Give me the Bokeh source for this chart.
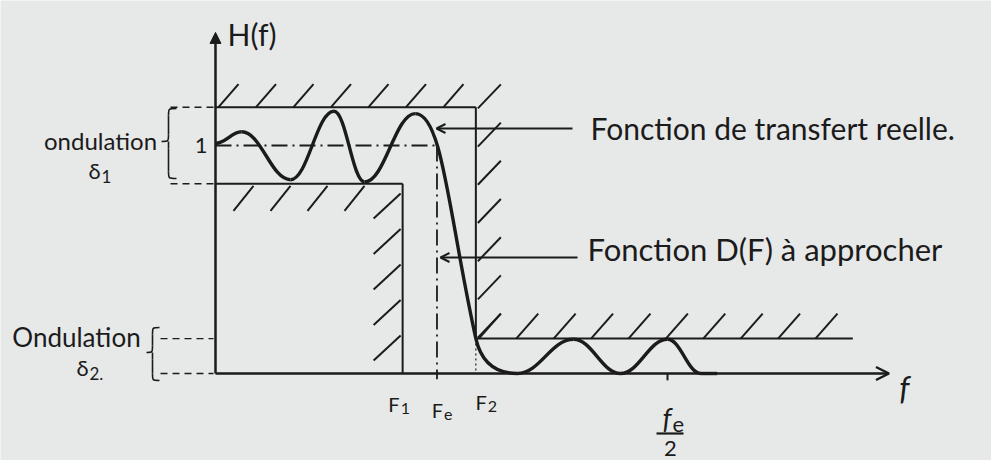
from bokeh.plotting import figure
from bokeh.models import Range1d, Arrow, NormalHead, OpenHead
from bokeh.core.properties import value
from bokeh.embed import file_html
from bokeh.resources import INLINE

# ---- template of the low-pass filter (normalised frequency, gain) ----
F1 = 0.207          # end of pass band
FE = 0.245          # cut-off frequency
F2 = 0.288          # start of stop band
FE_HALF = 0.5       # fe / 2
PASS_LEVEL = 1.0
DELTA1 = 0.168      # pass-band ripple
DELTA2 = 0.153      # stop-band ripple
STOP_END = 0.705
X_AXIS_END = 0.745
Y_AXIS_END = 1.496

# extrema of the real transfer function |H(f)|
curve_f = [0.0, 0.029, 0.083, 0.131, 0.165, 0.221, 0.288, 0.334, 0.396, 0.448, 0.500, 0.537, 0.555]
curve_h = [1.01, 1.06, 0.85, 1.15, 0.84, 1.14, 0.153, 0.0, 0.15, 0.0, 0.15, 0.0, 0.0]

# frequency marks: (main letter, index)
freq_labels = [("F", "1"), ("F", "e"), ("F", "2")]

# ---- layout ----
W, H = 991, 460
X0PX, Y0PX = 215, 373      # screen position of the origin
SX, SY = 904.0, 228.0      # pixels per unit on each axis
INK = "#1b1b1b"
BG = "#e7e8e8"
FONT = value("Lato")


def fx(px):
    return (px - X0PX) / SX


def fy(py):
    return (Y0PX - py) / SY


p = figure(width=W, height=H,
           x_range=Range1d(fx(0), fx(W)), y_range=Range1d(fy(H), fy(0)),
           output_backend="svg", toolbar_location=None,
           x_axis_location=None, y_axis_location=None,
           min_border=0, outline_line_color=None,
           background_fill_color=BG, border_fill_color=BG)
p.grid.visible = False

PASS_HI = PASS_LEVEL + DELTA1
PASS_LO = PASS_LEVEL - DELTA1

# ---- axes ----
p.add_layout(Arrow(end=NormalHead(size=11, fill_color=INK, line_color=INK, line_width=1),
                   x_start=0, y_start=0, x_end=0, y_end=Y_AXIS_END,
                   line_color=INK, line_width=2.5))
p.add_layout(Arrow(end=OpenHead(size=13, line_color=INK, line_width=2.5),
                   x_start=0, y_start=0, x_end=X_AXIS_END, y_end=0,
                   line_color=INK, line_width=2.5))

# ---- template boundaries ----
p.segment(x0=[0, F2, 0, F1, F2], y0=[PASS_HI, PASS_HI, PASS_LO, PASS_LO, DELTA2],
          x1=[F2, F2, F1, F1, STOP_END], y1=[PASS_HI, DELTA2, PASS_LO, 0, DELTA2],
          line_color=INK, line_width=2)
p.segment(x0=[F2], y0=[DELTA2], x1=[F2], y1=[0], line_color=INK, line_width=1.2,
          line_dash="2 3")
# dash-dot guides: level 1 and Fe
p.segment(x0=[0, FE], y0=[PASS_LEVEL, PASS_LEVEL], x1=[FE, FE], y1=[PASS_LEVEL, -0.025],
          line_color=INK, line_width=1.8, line_dash="16 5 2 5")
# fe/2 tick
p.segment(x0=[FE_HALF], y0=[0], x1=[FE_HALF], y1=[-0.03], line_color=INK, line_width=2)

# dashed level marks on the left of the gain axis
lv = [PASS_HI, PASS_LO, DELTA2, 0.0]
left = [fx(170), fx(170), fx(160), fx(160)]
p.segment(x0=left, y0=lv, x1=[fx(213)] * 4, y1=lv, line_color=INK, line_width=1.4,
          line_dash="7 5")


# ---- hatching of the forbidden zones ----
def hatch(starts, dxp, dyp):
    xs0 = [s[0] for s in starts]
    ys0 = [s[1] for s in starts]
    xs1 = [x + dxp / SX for x in xs0]
    ys1 = [y - dyp / SY for y in ys0]
    p.segment(x0=xs0, y0=ys0, x1=xs1, y1=ys1, line_color=INK, line_width=2)


def along(a, b, first_px, step_px, scale):
    out, v = [], a + first_px / scale
    while v <= b + 1e-9:
        out.append(v)
        v += step_px / scale
    return out


# above the pass-band upper bound
hatch([(x, PASS_HI) for x in along(0, F2 - 20 / SX, 3, 37.5, SX)], 20, -23)
# right of F2
hatch([(F2 + 2 / SX, y) for y in along(DELTA2, PASS_HI, 1, 38.2, SY)], 23, -24)
# below the pass-band lower bound
hatch([(x, PASS_LO - 27 / SY) for x in along(0, F1 - 30 / SX, 18, 37, SX)], 20, -25)
# left of F1
hatch([(F1 - 29 / SX, y - 25 / SY) for y in along(0, PASS_LO - 8 / SY, 38, 35.5, SY)], 27, -25)
# above the stop band
hatch([(x, DELTA2) for x in along(F2, STOP_END, 3, 37.4, SX)], 22, -25)

# ---- real transfer function ----
bx0, by0, bx1, by1, cx0, cy0, cx1, cy1 = [], [], [], [], [], [], [], []
for i in range(len(curve_f) - 1):
    xa, ya, xb, yb = curve_f[i], curve_h[i], curve_f[i + 1], curve_h[i + 1]
    dxs = xb - xa
    if i == 5:        # steep fall through the transition band
        c0 = (xa + 0.45 * dxs, ya)
        c1 = (xb - 0.45 * dxs, yb + 0.55 * (ya - yb))
    elif i == 6:      # rounding into the stop band
        c0 = (xa + 0.15 * dxs, ya - 0.12)
        c1 = (xb - 0.45 * dxs, yb)
    else:
        c0 = (xa + 0.40 * dxs, ya)
        c1 = (xb - 0.40 * dxs, yb)
    bx0.append(xa); by0.append(ya); bx1.append(xb); by1.append(yb)
    cx0.append(c0[0]); cy0.append(c0[1]); cx1.append(c1[0]); cy1.append(c1[1])
p.bezier(x0=bx0, y0=by0, x1=bx1, y1=by1, cx0=cx0, cy0=cy0, cx1=cx1, cy1=cy1,
         line_color=INK, line_width=3.4)


# ---- braces ----
def brace(xl, xm, xr, ytop, ymid, ybot):
    r = 7
    sx0 = [xr, xm, xm, xm]
    sy0 = [ytop, ymid - r, ymid, ybot - r]
    sx1 = [xm, xl, xm, xr]
    sy1 = [ytop + r, ymid, ymid + r, ybot]
    scx0 = [xm, xm, xm, xm]
    scy0 = [ytop, ymid, ymid, ybot]
    scx1 = [xm, xm, xm, xm]
    scy1 = [ytop, ymid, ymid, ybot]
    p.bezier(x0=[fx(v) for v in sx0], y0=[fy(v) for v in sy0],
             x1=[fx(v) for v in sx1], y1=[fy(v) for v in sy1],
             cx0=[fx(v) for v in scx0], cy0=[fy(v) for v in scy0],
             cx1=[fx(v) for v in scx1], cy1=[fy(v) for v in scy1],
             line_color=INK, line_width=1.6)
    p.segment(x0=[fx(xm), fx(xm)], y0=[fy(ytop + r), fy(ymid + r)],
              x1=[fx(xm), fx(xm)], y1=[fy(ymid - r), fy(ybot - r)],
              line_color=INK, line_width=1.6)


brace(161, 168, 176, 108, 141, 178)
brace(146, 152, 159, 327, 352, 380)


# ---- texts ----
def txt(x, y, s, size, align="center", style="normal", xo=0, yo=0):
    p.text(x=[x], y=[y], text=[s], text_font=FONT, text_font_size=f"{size}px",
           text_color=INK, text_align=align, text_baseline="middle",
           text_font_style=style, x_offset=xo, y_offset=yo)


def indexed(x, y, main, sub, size, xo=0, yo=0, style="normal"):
    # letter with a lowered index written beside it
    txt(x, y, main, size, align="right", style=style, xo=xo + 2, yo=yo)
    txt(x, y, sub, round(size * 0.78), align="left", xo=xo + 3, yo=yo + size * 0.25)


txt(fx(227), fy(33), "H(f)", 30, align="left")
txt(fx(207), fy(145), "1", 22, align="right")
txt(fx(100), fy(140), "ondulation", 24)
indexed(fx(98), fy(170), "δ", "1", 22)
txt(fx(76), fy(336), "Ondulation", 26)
indexed(fx(86), fy(367), "δ", "2.", 22)

for fval, (m, s), xo, yo in zip([F1, FE, F2], freq_labels, [-5, 4, 9], [30, 36, 28]):
    indexed(fval, 0, m, s, 20, xo=xo, yo=yo)

indexed(FE_HALF, 0, "f", "e", 28, xo=2, yo=44, style="italic")
p.segment(x0=[FE_HALF - 11 / SX], y0=[-60 / SY], x1=[FE_HALF + 16 / SX], y1=[-60 / SY],
          line_color=INK, line_width=2.2)
txt(FE_HALF, 0, "2", 22, xo=3, yo=75)
txt(fx(904), fy(387), "f", 32, style="italic")

# annotations pointing at the two functions
p.add_layout(Arrow(end=OpenHead(size=9, line_color=INK, line_width=2),
                   x_start=fx(572), y_start=fy(128), x_end=fx(436), y_end=fy(128),
                   line_color=INK, line_width=2))
txt(fx(590), fy(127), "Fonction de transfert reelle.", 30, align="left")
p.add_layout(Arrow(end=OpenHead(size=9, line_color=INK, line_width=2),
                   x_start=fx(577), y_start=fy(257), x_end=fx(440), y_end=fy(257),
                   line_color=INK, line_width=2))
txt(fx(587), fy(248), "Fonction D(F) à approcher", 31, align="left")

open("out.html", "w").write(file_html(p, INLINE))
